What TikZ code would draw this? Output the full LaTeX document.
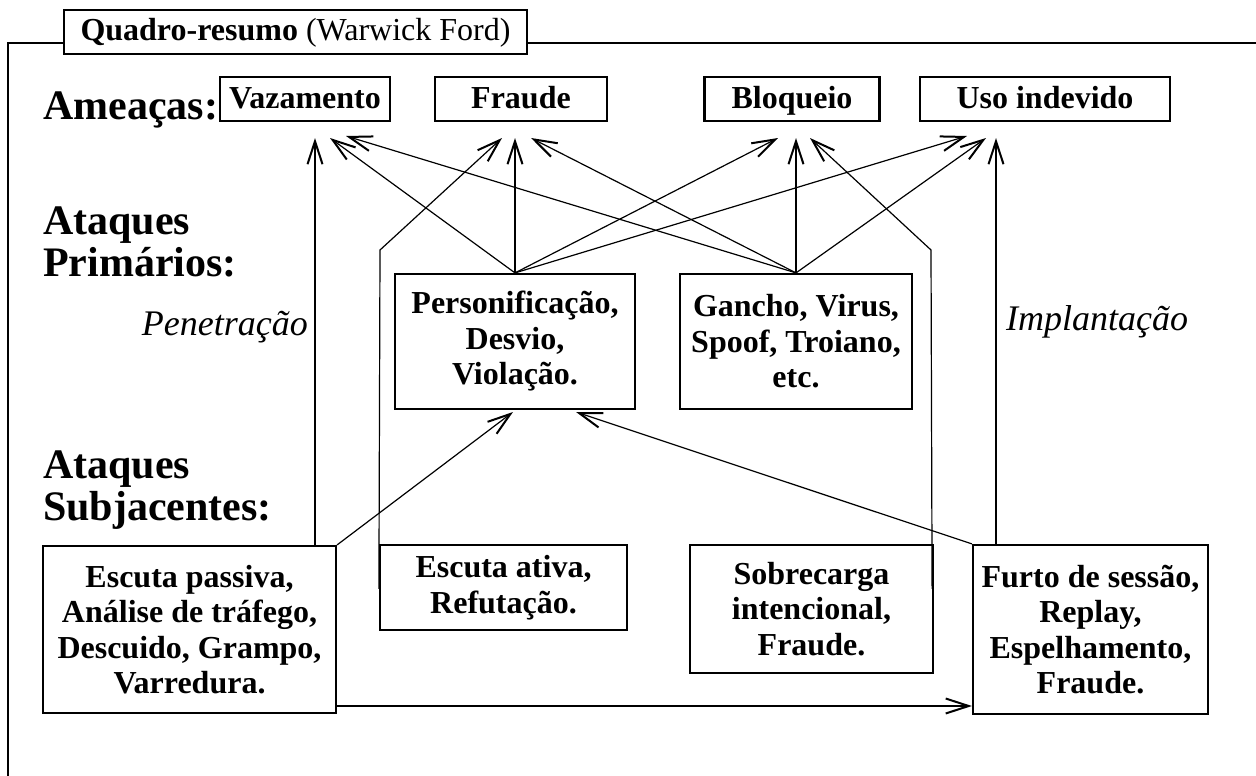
\documentclass[tikz,border=0pt]{standalone}
\usepackage{fontspec}
\setmainfont{Liberation Serif}
\usetikzlibrary{arrows.meta,calc}
\newcommand{\boxfont}{\fontsize{32}{35.5}\selectfont\bfseries}
\newcommand{\headfont}{\fontsize{42}{41.5}\selectfont\bfseries}
\newcommand{\labfont}{\fontsize{36}{40}\selectfont\itshape}
\begin{document}
\begin{tikzpicture}[x=1pt,y=-1pt,
  tbox/.style={draw,line width=2.2pt,fill=white,align=center,inner sep=0pt,font=\boxfont},
  threat/.style={tbox,minimum height=44pt,text height=24pt,text depth=5pt},
  arr/.style={line width=1.2pt,-{Straight Barb[length=23pt,width=15pt,line width=2pt]}},
  frame/.style={line width=2.5pt},
  head/.style={anchor=base west,align=left,font=\headfont,inner sep=0pt},
  lab/.style={font=\labfont,inner sep=0pt}]
\useasboundingbox (0,0) rectangle (1256,776);
% frame
\draw[frame] (8,776) -- (8,43) -- (64,43);
\draw[frame] (527,43) -- (1256,43);
\node[tbox,line width=2pt,minimum width=463pt,minimum height=44pt,font=\fontsize{32}{35}\selectfont,text height=23pt,text depth=6pt] (title) at (295.5,32) {\textbf{Quadro-resumo} (Warwick Ford)};
% headings
\node[head] (am) at (43,119) {Ameaças:};
\node[head] (ap) at (43,276) {Ataques\\Primários:};
\node[head] (as) at (43,520) {Ataques\\Subjacentes:};
\node[lab,anchor=base east] (pen) at (308,335) {Penetração};
\node[lab,anchor=base west] (imp) at (1006,330) {Implantação};
% threats
\node[threat,minimum width=170pt] (vaz) at (305,99) {Vazamento};
\node[threat,minimum width=172pt] (fra) at (521,99) {Fraude};
\node[threat,minimum width=175pt] (blo) at (792,99) {Bloqueio};
\node[threat,minimum width=250pt] (uso) at (1045,99) {Uso indevido};
% primary
\node[tbox,minimum width=240pt,minimum height=135pt] (per) at (515,341.5) {Personificação,\\Desvio,\\Violação.};
\node[tbox,minimum width=232pt,minimum height=135pt] (gan) at (796,341.5) {Gancho, Virus,\\Spoof, Troiano,\\etc.};
% underlying
\node[tbox,minimum width=293pt,minimum height=167pt] (esp) at (189.5,629.5) {Escuta passiva,\\Análise de tráfego,\\Descuido, Grampo,\\Varredura.};
\node[tbox,minimum width=247pt,minimum height=85pt] (eat) at (503.5,587.5) {Escuta ativa,\\Refutação.};
\node[tbox,minimum width=243pt,minimum height=128pt] (sob) at (811.5,609) {Sobrecarga\\intencional,\\Fraude.};
\node[tbox,minimum width=235pt,minimum height=169pt] (fur) at (1090.5,629.5) {Furto de sessão,\\Replay,\\Espelhamento,\\Fraude.};
% arrow tip coordinates
\coordinate (v1) at (315,138);
\coordinate (v2) at (330,138);
\coordinate (v3) at (346,136);
\coordinate (f1) at (502,138);
\coordinate (f2) at (515,138);
\coordinate (f3) at (531,138);
\coordinate (b1) at (778,138);
\coordinate (b2) at (796,138);
\coordinate (b3) at (810,138);
\coordinate (u1) at (967,136);
\coordinate (u2) at (986,138);
\coordinate (u3) at (996,138);
\coordinate (pb1) at (513,412);
\coordinate (pb2) at (576,412);
\coordinate (eabend) at (380,250);
\coordinate (sobend) at (931,250);
% connectors
\draw[arr] (esp.north -| v1) -- (v1);
\draw[arr] (fur.north -| u3) -- (u3);
\draw[arr] (per.north) -- (v2);
\draw[arr] (per.north) -- (f2);
\draw[arr] (per.north) -- (b1);
\draw[arr] (per.north) -- (u1);
\draw[arr] (gan.north) -- (v3);
\draw[arr] (gan.north) -- (f3);
\draw[arr] (gan.north) -- (b2);
\draw[arr] (gan.north) -- (u2);
\draw[arr] ($(eat.north west)+(0,45)$) -- (eabend) -- (f1);
\draw[arr] ($(sob.north east)+(-2,45)$) -- (sobend) -- (b3);
\draw[arr] (esp.north east) -- (pb1);
\draw[arr] (fur.north west) -- (pb2);
\draw[arr] (esp.east |- 0,706) -- (fur.west |- 0,706);
\end{tikzpicture}
\end{document}
